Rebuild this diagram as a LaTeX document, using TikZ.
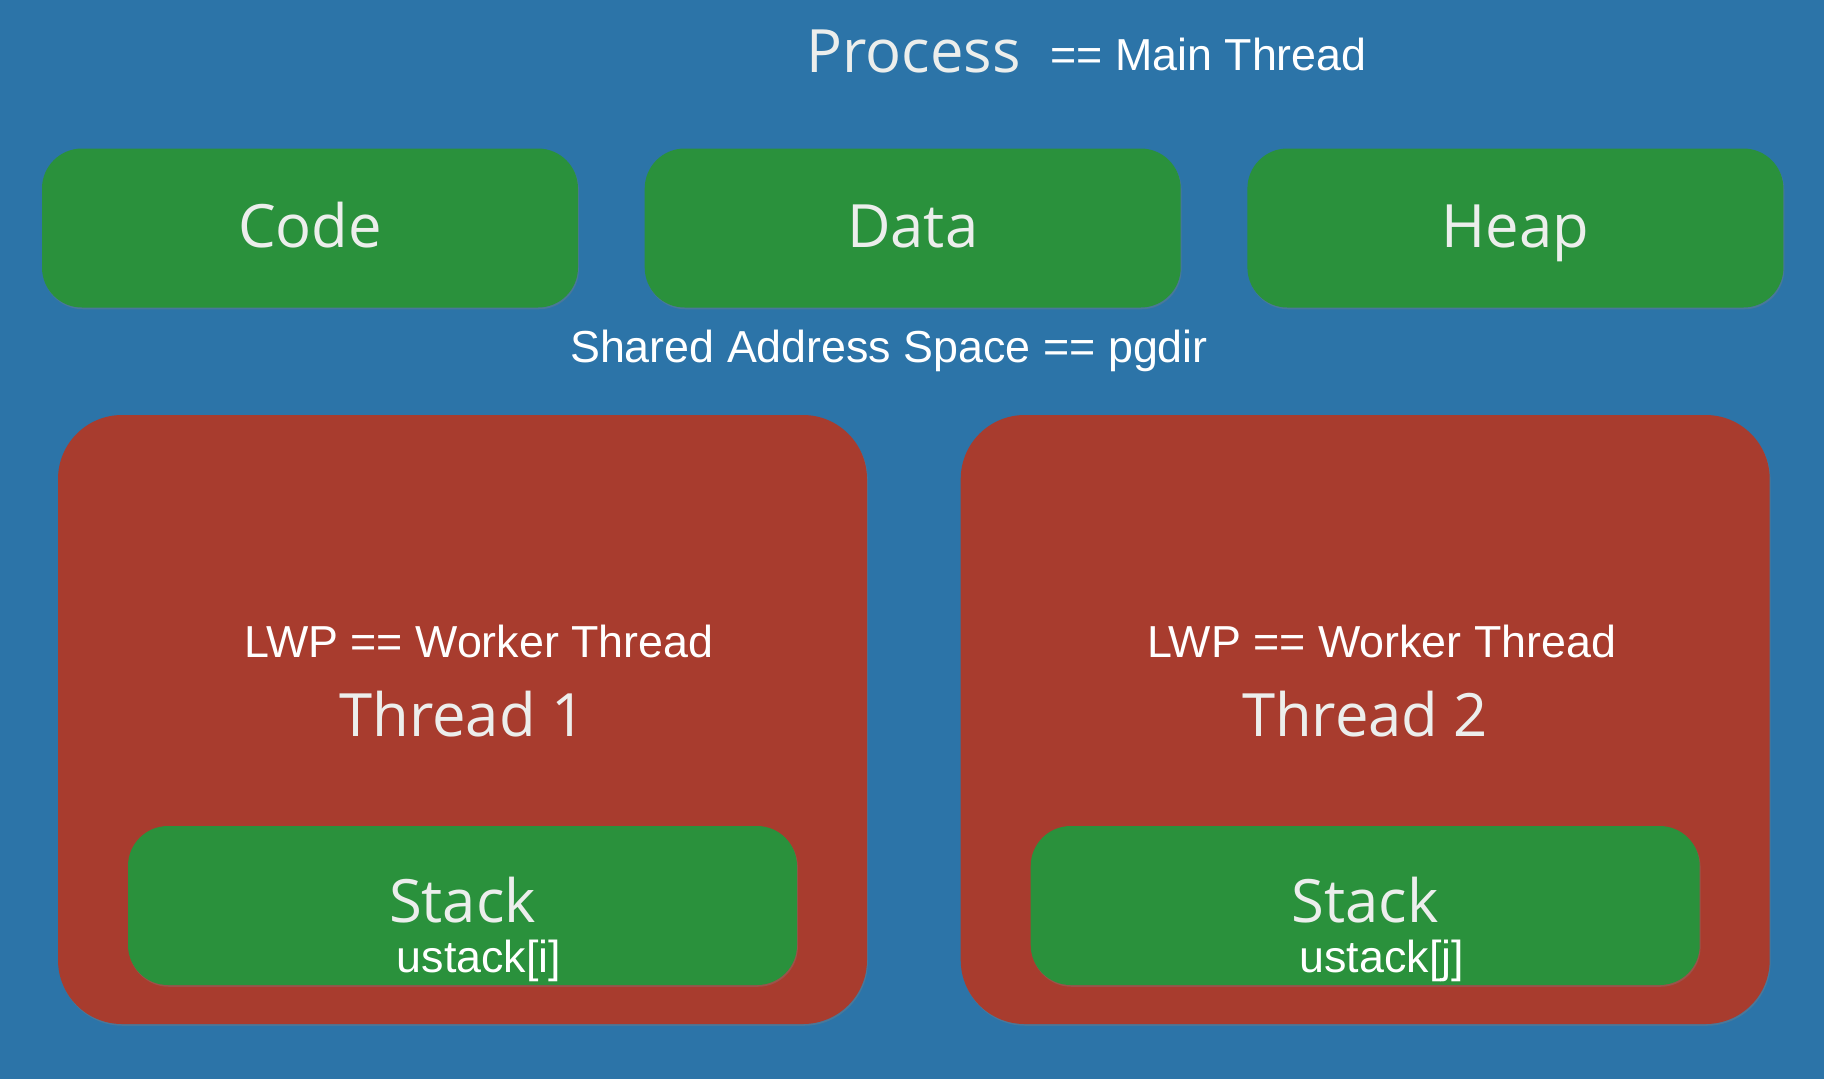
\documentclass[tikz,border=0pt]{standalone}
\usepackage{fontspec}
\usetikzlibrary{positioning, shadows, calc}
\newfontfamily\labelfont{Open Sans}
\newfontfamily\notefont{Liberation Sans}
\definecolor{feltblue}{RGB}{44,116,168}
\definecolor{feltgreen}{RGB}{42,145,60}
\definecolor{feltred}{RGB}{168,60,46}
\definecolor{chalk}{RGB}{236,238,236}
\tikzset{
    % Define style for the shared segments
    segment/.style={
           rectangle,
           rounded corners=0.8cm,
           fill=feltgreen,
           minimum width=10.72cm,
           minimum height=3.18cm,
           drop shadow={opacity=0.35, shadow xshift=0.5pt, shadow yshift=-1pt}},
    % Define style for the thread boxes
    threadbox/.style={
           rectangle,
           rounded corners=1.28cm,
           fill=feltred,
           minimum width=16.18cm,
           minimum height=12.18cm,
           drop shadow={opacity=0.35, shadow xshift=0.5pt, shadow yshift=-1pt}},
    stackbox/.style={
           segment,
           minimum width=13.38cm},
    % Define text styles
    big/.style={text=chalk, inner sep=0pt, anchor=base, font=\labelfont\fontsize{34}{40}\selectfont},
    note/.style={text=white, inner sep=0pt, anchor=base, font=\notefont\fontsize{25.5}{30}\selectfont}
}
\begin{document}
\begin{tikzpicture}
	\fill[feltblue] (0,0) rectangle (36.48,-21.58);
	\useasboundingbox (0,0) rectangle (36.48,-21.58);
	%
	% titre
	%
	\node[big] (proc) at (18.27,-1.44) {Process};
	\node[note, anchor=base west] (mainthr) at ([xshift=0.58cm, yshift=0.04cm]proc.base east) {== Main Thread};
	%
	% segments
	%
	\node[segment] (code) at (6.2,-4.56) {};
	\node[segment, right=1.32cm of code] (data) {};
	\node[segment, right=1.32cm of data] (heap) {};
	\node[big] at ($(code)+(0,-0.38)$) {Code};
	\node[big] at ($(data)+(0,-0.38)$) {Data};
	\node[big] at ($(heap)+(0,-0.38)$) {Heap};
	\node[note] (shared) at (17.78,-7.24) {Shared Address Space == pgdir};
	%
	% threads
	%
	\node[threadbox] (thr1) at (9.25,-14.39) {};
	\node[threadbox, right=1.86cm of thr1] (thr2) {};
	\node[stackbox] (stk1) at (9.25,-18.11) {};
	\node[stackbox] (stk2) at ($(thr2)+(0,-3.72)$) {};
	\node[note] (lwp1) at ($(thr1)+(0.33,1.25)$) {LWP == Worker Thread};
	\node[note] (lwp2) at ($(thr2)+(0.33,1.25)$) {LWP == Worker Thread};
	\node[big] (name1) at ($(thr1)+(0,-0.33)$) {Thread 1};
	\node[big] (name2) at ($(thr2)+(0,-0.33)$) {Thread 2};
	\node[big] (stklbl1) at ($(stk1)+(0,-0.33)$) {Stack};
	\node[big] (stklbl2) at ($(stk2)+(0,-0.33)$) {Stack};
	\node[note] (ust1) at ($(stk1)+(0.33,-1.34)$) {ustack[i]};
	\node[note] (ust2) at ($(stk2)+(0.33,-1.34)$) {ustack[j]};
\end{tikzpicture}
\end{document}
